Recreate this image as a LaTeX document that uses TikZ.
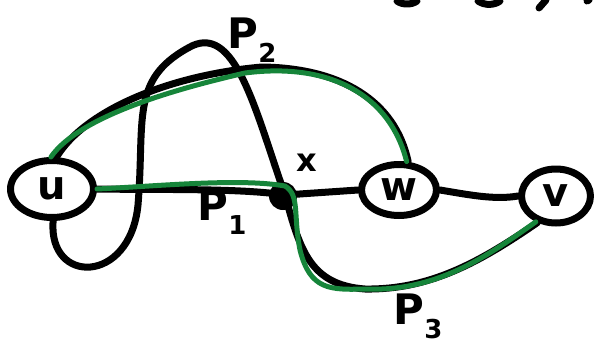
\documentclass[tikz,border=0pt]{standalone}
\usepackage{fontspec}
\setsansfont{DejaVu Sans}
\usetikzlibrary{shapes.geometric}
\definecolor{pathgreen}{RGB}{22,133,58}
\newcommand{\plabel}[1]{P\raisebox{-14pt}{\fontsize{26}{26}\selectfont #1}}
\begin{document}
\begin{tikzpicture}[x=1pt,y=-1pt,line width=7pt,line cap=round,line join=round,
  every node/.style={font=\sffamily\bfseries\fontsize{40}{40}\selectfont},
  vertex/.style={draw,ellipse,line width=7pt,inner sep=0pt},
  green path/.style={draw=pathgreen,line width=5pt},
  lbl/.style={font=\sffamily\bfseries\fontsize{42}{42}\selectfont,inner sep=0pt}]
  \useasboundingbox (0,0) rectangle (597,348);
  % vertices
  \node[vertex,minimum width=83,minimum height=57] (u) at (52,189) {u};
  \node[vertex,minimum width=75,minimum height=51] (w) at (399,190) {w};
  \node[vertex,minimum width=69,minimum height=54] (v) at (556,196) {v};
  \coordinate (x) at (285,195);
  \node[lbl,font=\sffamily\bfseries\fontsize{32}{32}\selectfont] (xlbl) at (307,163) {x};
  % plain edges
  \draw (u.east) .. controls (160,190) and (240,188) .. (x);
  \draw (x) -- (w.west);
  \draw (w.east) .. controls (470,195) and (495,200) .. (v.west);
  % upper edge u -- w
  \coordinate (top) at (262,67);
  \draw (u.82) .. controls (85,110) and (170,75) .. (top)
    .. controls (340,68) and (395,100) .. (w.72);
  % loop below u back to x
  \coordinate (lp1) at (138,205);
  \coordinate (lp2) at (188,48);
  \draw (u.272) .. controls (48,285) and (130,285) .. (lp1)
    .. controls (145,120) and (130,80) .. (lp2)
    .. controls (235,20) and (255,110) .. (x);
  % lower edge x -- v
  \coordinate (low) at (365,289);
  \draw (x) .. controls (300,250) and (310,285) .. (low)
    .. controls (430,290) and (480,262) .. (v.235);
  \fill (283,196) circle[radius=14pt];
  % green paths
  \draw[green path] (u.92) .. controls (80,115) and (180,88) .. (245,73)
    .. controls (330,62) and (390,95) .. (w.75);
  \draw[green path] (u.east) .. controls (160,186) and (240,178) .. (285,186)
    .. controls (300,195) and (293,215) .. (300,250)
    .. controls (310,290) and (330,290) .. (low)
    .. controls (435,292) and (485,258) .. (v.232);
  % labels
  \node[lbl] (P1) at (222,212) {\plabel{1}};
  \node[lbl] (P2) at (252,40) {\plabel{2}};
  \node[lbl] (P3) at (418,316) {\plabel{3}};
  % cut-off strokes at the top
  \draw (397,1) .. controls (402,5) and (412,5) .. (417,1);
  \draw (478,1) .. controls (485,6) and (495,5) .. (500,1);
  \draw (546,0) -- (539,8);
  \draw (587,1) -- (589,0);
\end{tikzpicture}
\end{document}
